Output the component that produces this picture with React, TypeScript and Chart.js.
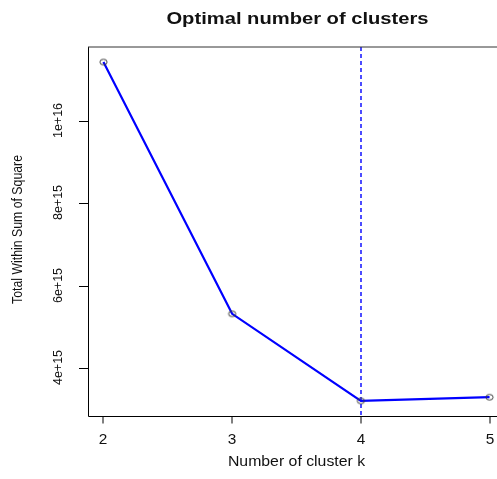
import React, { useEffect, useRef } from "react";
import { Chart, registerables } from "chart.js";

Chart.register(...registerables);

const clusterK = [2, 3, 4, 5];
const withinSS = [1.1425e16, 5.32e15, 3.21e15, 3.3e15];
const xTicks = [2, 3, 4, 5];
const yTicks = [4e15, 6e15, 8e15, 1e16];
const yTickLabels = ["4e+15", "6e+15", "8e+15", "1e+16"];
const optimalK = 4;
const titleText = "Optimal number of clusters";
const xTitle = "Number of cluster k";
const yTitle = "Total Within Sum of Square";

const CANVAS_W = 530;
const CANVAS_H = 479;
const FONT = '"Liberation Sans", Arial, Helvetica, sans-serif';

function drawText(
  ctx: CanvasRenderingContext2D,
  text: string,
  x: number,
  y: number,
  font: string,
  sx: number,
  rotate: boolean
) {
  ctx.save();
  ctx.font = font;
  ctx.textAlign = "center";
  ctx.textBaseline = "alphabetic";
  ctx.translate(x, y);
  ctx.scale(sx, 1);
  if (rotate) ctx.rotate(-Math.PI / 2);
  ctx.fillText(text, 0, 0);
  ctx.restore();
}

function makeEllipsePoint(): HTMLCanvasElement {
  const c = document.createElement("canvas");
  c.width = 11;
  c.height = 9;
  const g = c.getContext("2d")!;
  g.strokeStyle = "#3a3a3a";
  g.lineWidth = 1;
  g.beginPath();
  g.ellipse(5.5, 4.5, 3.6, 2.8, 0, 0, Math.PI * 2);
  g.stroke();
  return c;
}

const rAxesPlugin = {
  id: "rAxes",
  beforeDatasetsDraw(chart: any) {
    const { ctx, chartArea, scales } = chart;
    const x = Math.round(scales.x.getPixelForValue(optimalK));
    ctx.save();
    ctx.strokeStyle = "#0000FF";
    ctx.lineWidth = 1.4;
    ctx.setLineDash([4, 3]);
    ctx.beginPath();
    ctx.moveTo(x, chartArea.top);
    ctx.lineTo(x, chartArea.bottom);
    ctx.stroke();
    ctx.restore();
  },
  afterDraw(chart: any) {
    const { ctx, chartArea, scales } = chart;
    const left = Math.round(chartArea.left);
    const top = Math.round(chartArea.top);
    const right = Math.round(chartArea.right);
    const bottom = Math.round(chartArea.bottom);
    ctx.save();
    ctx.lineWidth = 1;
    ctx.setLineDash([]);
    ctx.strokeStyle = "#000";
    ctx.beginPath();
    ctx.moveTo(left + 0.5, top);
    ctx.lineTo(left + 0.5, bottom + 0.5);
    ctx.lineTo(right + 0.5, bottom + 0.5);
    ctx.stroke();
    ctx.strokeStyle = "#333";
    ctx.beginPath();
    ctx.moveTo(left, top);
    ctx.lineTo(right, top);
    ctx.stroke();

    ctx.strokeStyle = "#000";
    ctx.fillStyle = "#111";
    xTicks.forEach((v) => {
      const px = Math.round(scales.x.getPixelForValue(v));
      ctx.beginPath();
      ctx.moveTo(px, bottom + 0.5);
      ctx.lineTo(px, bottom + 7.5);
      ctx.stroke();
      drawText(ctx, String(v), px, 443.5, `14px ${FONT}`, 1.1, false);
    });
    yTicks.forEach((v, i) => {
      const py = Math.round(scales.y.getPixelForValue(v)) + 0.5;
      ctx.beginPath();
      ctx.moveTo(left + 0.5, py);
      ctx.lineTo(left - 9, py);
      ctx.stroke();
      drawText(ctx, yTickLabels[i], 61.5, py - 1, `12.5px ${FONT}`, 1.05, true);
    });
    const cx = (chartArea.left + chartArea.right) / 2;
    const cy = (chartArea.top + chartArea.bottom) / 2;
    drawText(ctx, xTitle, cx, 466, `14px ${FONT}`, 1.13, false);
    drawText(ctx, yTitle, 22, cy - 2, `12.3px ${FONT}`, 1.12, true);
    drawText(ctx, titleText, cx + 1, 24, `bold 16px ${FONT}`, 1.26, false);
    ctx.restore();
  },
};

export default function App() {
  const ref = useRef<HTMLCanvasElement>(null);
  useEffect(() => {
    document.body.style.margin = "0";
    document.body.style.overflow = "hidden";
    const canvas = ref.current!;
    const pointImg = makeEllipsePoint();
    const chart = new Chart(canvas, {
      type: "line",
      data: {
        datasets: [
          {
            data: clusterK.map((k, i) => ({ x: k, y: withinSS[i] })),
            borderColor: "#0000FF",
            borderWidth: 2.2,
            pointStyle: pointImg as any,
            pointRadius: 4,
            pointHoverRadius: 4,
            tension: 0,
          },
        ],
      },
      options: {
        responsive: false,
        animation: false,
        devicePixelRatio: 1,
        layout: { padding: { left: 88, top: 47, right: CANVAS_W - 505, bottom: CANVAS_H - 416 } },
        plugins: { legend: { display: false }, tooltip: { enabled: false }, title: { display: false } },
        scales: {
          x: { type: "linear", display: false, min: 1.88, max: 5.12 },
          y: { type: "linear", display: false, min: 2.844e15, max: 1.1789e16 },
        },
      },
      plugins: [rAxesPlugin],
    });
    return () => chart.destroy();
  }, []);
  return (
    <div style={{ width: 497, height: CANVAS_H, overflow: "hidden", background: "#fff" }}>
      <canvas ref={ref} width={CANVAS_W} height={CANVAS_H} style={{ display: "block" }} />
    </div>
  );
}
